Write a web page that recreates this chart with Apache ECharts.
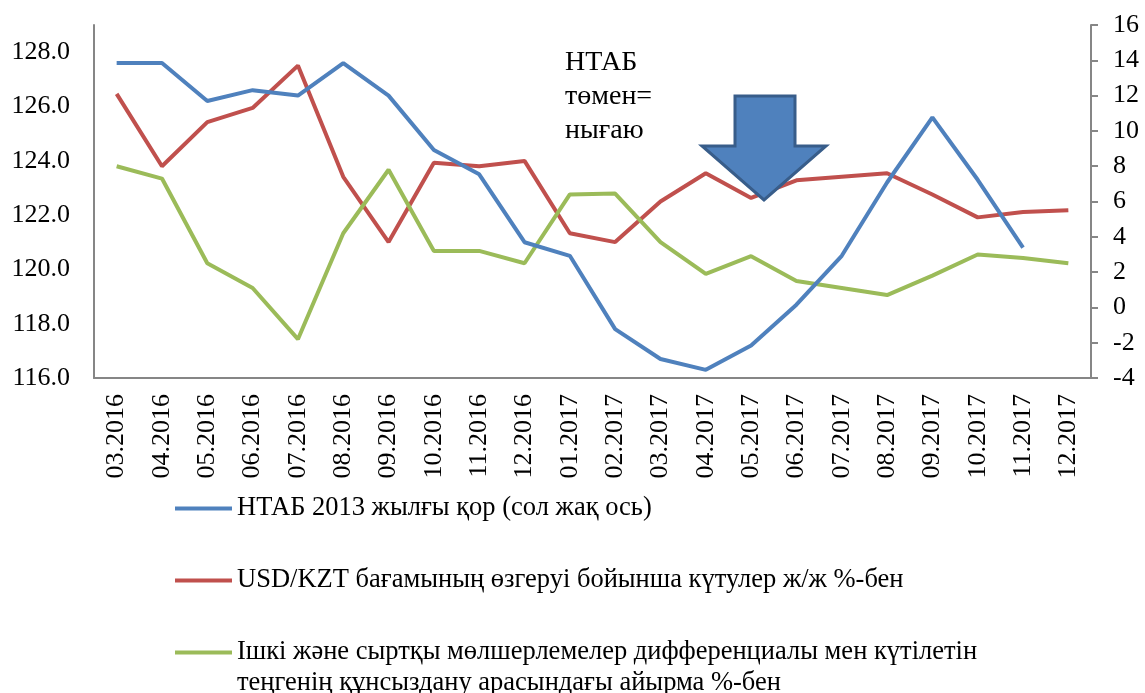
<!DOCTYPE html>
<html lang="kk">
<head>
<meta charset="UTF-8">
<title>НТАБ</title>
<script src="https://cdn.jsdelivr.net/npm/echarts@6/dist/echarts.min.js"></script>
<style>
  html, body { margin: 0; padding: 0; background: #fff; }
  #main { width: 1145px; height: 693px; }
</style>
</head>
<body>
<div id="main"></div>
<script type="text/javascript">
// categories (months)
var months = ['03.2016', '04.2016', '05.2016', '06.2016', '07.2016', '08.2016', '09.2016', '10.2016',
    '11.2016', '12.2016', '01.2017', '02.2017', '03.2017', '04.2017', '05.2017', '06.2017',
    '07.2017', '08.2017', '09.2017', '10.2017', '11.2017', '12.2017'];

// left axis: НТАБ index
var ntab = [127.6, 127.6, 126.2, 126.6, 126.4, 127.6, 126.4, 124.4, 123.5, 121.0, 120.5, 117.8,
    116.7, 116.3, 117.2, 118.7, 120.5, 123.2, 125.6, 123.3, 120.8, null];

// right axis: USD/KZT expectations, % y/y
var usdkzt = [12.1, 8.0, 10.5, 11.3, 13.7, 7.4, 3.7, 8.2, 8.0, 8.3, 4.2, 3.7,
    6.0, 7.6, 6.2, 7.2, 7.4, 7.6, 6.4, 5.1, 5.4, 5.5];

// right axis: rate differential vs expected depreciation, %
var diff = [8.0, 7.3, 2.5, 1.1, -1.8, 4.2, 7.8, 3.2, 3.2, 2.5, 6.4, 6.45,
    3.7, 1.9, 2.9, 1.5, 1.1, 0.7, 1.8, 3.0, 2.8, 2.5];

var names = [
    'НТАБ 2013 жылғы қор (сол жақ ось)',
    'USD/KZT бағамының өзгеруі бойынша күтулер ж/ж %-бен',
    'Ішкі және сыртқы мөлшерлемелер дифференциалы мен күтілетін теңгенің құнсыздану арасындағы айырма %-бен'
];

var serif = '"Liberation Serif", "DejaVu Serif", serif';
var axisGray = '#868686';

var myChart = echarts.init(document.getElementById('main'));

function legendAt(name, top, extra) {
    return Object.assign({
        data: [name],
        orient: 'vertical',
        left: 175,
        top: top,
        padding: 0,
        icon: 'rect',
        itemWidth: 57,
        itemHeight: 4,
        itemGap: 0,
        selectedMode: false,
        textStyle: { fontFamily: serif, fontSize: 26.5, color: '#000', lineHeight: 31 }
    }, extra || {});
}

option = {
    animation: false,
    backgroundColor: '#fff',
    grid: { left: 94, right: 54, top: 25, bottom: 315, containLabel: false },
    legend: [
        legendAt(names[0], 493),
        legendAt(names[1], 565),
        legendAt(names[2], 606, {
            // blank first line keeps the icon level with the first text line
            formatter: function () {
                return '\nІшкі және сыртқы мөлшерлемелер дифференциалы мен күтілетін\nтеңгенің құнсыздану арасындағы айырма %-бен';
            }
        })
    ],
    xAxis: {
        type: 'category',
        data: months,
        boundaryGap: true,
        axisLine: { onZero: false, lineStyle: { color: axisGray, width: 2 } },
        axisTick: { show: false },
        axisLabel: {
            rotate: 90,
            interval: 0,
            margin: 16,
            fontFamily: serif,
            fontSize: 26,
            color: '#000'
        }
    },
    yAxis: [{
        type: 'value',
        min: 116,
        max: 129,
        interval: 2,
        position: 'left',
        splitLine: { show: false },
        axisLine: { show: true, lineStyle: { color: axisGray, width: 2 } },
        axisTick: { show: false },
        axisLabel: {
            margin: 24,
            fontFamily: serif,
            fontSize: 26,
            color: '#000',
            showMaxLabel: false,
            formatter: function (v) { return v.toFixed(1); }
        }
    }, {
        type: 'value',
        min: -4,
        max: 16,
        interval: 2,
        position: 'right',
        splitLine: { show: false },
        axisLine: { show: true, lineStyle: { color: axisGray, width: 2 } },
        axisTick: { show: true, length: 7, lineStyle: { color: axisGray, width: 2 } },
        axisLabel: {
            margin: 22,
            fontFamily: serif,
            fontSize: 26,
            color: '#000'
        }
    }],
    series: [{
        name: names[0],
        type: 'line',
        yAxisIndex: 0,
        data: ntab,
        showSymbol: false,
        color: '#4F81BD',
        lineStyle: { width: 4, color: '#4F81BD' },
        z: 3
    }, {
        name: names[1],
        type: 'line',
        yAxisIndex: 1,
        data: usdkzt,
        showSymbol: false,
        color: '#C0504D',
        lineStyle: { width: 4, color: '#C0504D' },
        z: 2
    }, {
        name: names[2],
        type: 'line',
        yAxisIndex: 1,
        data: diff,
        showSymbol: false,
        color: '#9BBB59',
        lineStyle: { width: 4, color: '#9BBB59' },
        z: 2
    }],
    graphic: [{
        type: 'text',
        left: 565,
        top: 46,
        z: 10,
        style: {
            text: 'НТАБ\nтөмен=\nнығаю',
            font: '28px ' + serif,
            fill: '#000',
            lineHeight: 34
        }
    }, {
        type: 'polygon',
        z: 10,
        shape: {
            points: [[735, 96], [795, 96], [795, 146], [826, 146], [764, 200], [702, 146], [735, 146]]
        },
        style: { fill: '#4F81BD', stroke: '#385D8A', lineWidth: 3 }
    }]
};

myChart.setOption(option);
</script>
</body>
</html>
